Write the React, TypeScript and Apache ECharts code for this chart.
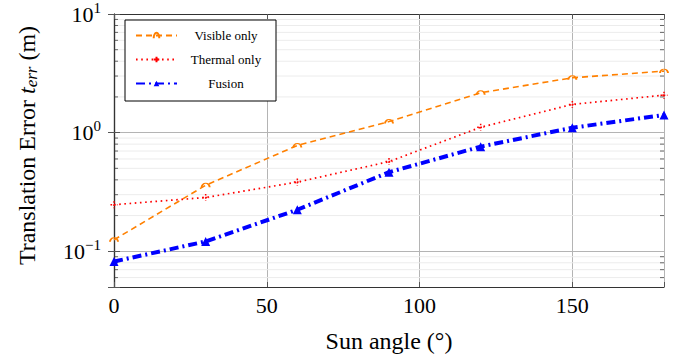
import React, { useEffect, useRef } from 'react';
import * as echarts from 'echarts';

const sunAngles = [0, 30, 60, 90, 120, 150, 180];
const visibleOnly = [0.125, 0.36, 0.78, 1.24, 2.17, 2.9, 3.3];
const thermalOnly = [0.247, 0.284, 0.383, 0.57, 1.11, 1.73, 2.07];
const fusion = [0.082, 0.121, 0.224, 0.464, 0.762, 1.1, 1.41];
const xTickLabels = [0, 50, 100, 150];
const yMinorTicks = [0.06, 0.07, 0.08, 0.09, 0.2, 0.3, 0.4, 0.5, 0.6, 0.7, 0.8, 0.9, 2, 3, 4, 5, 6, 7, 8, 9];
const seriesNames = ['Visible only', 'Thermal only', 'Fusion'];

const FONT = "'Liberation Serif', 'Times New Roman', serif";

export default function App() {
  const ref = useRef<HTMLDivElement>(null);
  useEffect(() => {
    if (!ref.current) return;
    const chart = echarts.init(ref.current, undefined, { renderer: 'svg' });
    const pair = (ys: number[]) => sunAngles.map((x, i) => [x, ys[i]]);
    const yLabel = (v: number) => {
      const l = Math.log10(v);
      const r = Math.round(l);
      if (Math.abs(l - r) > 1e-6) return '';
      const e = r < 0 ? '\u2212' + Math.abs(r) : String(r);
      return `10{sup|${e}}`;
    };
    const option: any = {
      animation: false,
      backgroundColor: '#fff',
      grid: { left: 114, right: 11, top: 14, bottom: 71, show: false },
      legend: {
        data: seriesNames,
        orient: 'vertical',
        left: 125,
        top: 20,
        padding: [8, 6, 10, 10],
        itemWidth: 41,
        itemHeight: 7,
        itemGap: 9,
        backgroundColor: '#fff',
        borderColor: '#000',
        borderWidth: 1,
        borderRadius: 0,
        formatter: (name: string) => `{a|${name}}`,
        textStyle: {
          fontFamily: FONT,
          fontSize: 13,
          color: '#000',
          rich: { a: { width: 88, height: 15, lineHeight: 15, align: 'center', fontSize: 13, fontFamily: FONT, color: '#000' } },
        },
      },
      xAxis: [
        {
          type: 'value',
          min: 0,
          max: 180,
          interval: 50,
          name: 'Sun angle (\u00b0)',
          nameLocation: 'middle',
          nameGap: 42,
          nameTextStyle: { fontFamily: FONT, fontSize: 24, color: '#000' },
          axisLine: { show: true, lineStyle: { color: '#333', width: 1.2 } },
          axisTick: { show: true, inside: true, length: 5, lineStyle: { color: '#555' } },
          axisLabel: {
            margin: 7,
            fontFamily: FONT,
            fontSize: 22,
            color: '#000',
            formatter: (v: number) => (xTickLabels.includes(v) ? String(v) : ''),
          },
          splitLine: { show: true, lineStyle: { color: '#b4b4b4', width: 1 } },
        },
        {
          type: 'value',
          position: 'top',
          min: 0,
          max: 180,
          interval: 50,
          axisLine: { show: true, lineStyle: { color: '#333', width: 1.2 } },
          axisTick: { show: true, inside: true, length: 5, lineStyle: { color: '#555' } },
          axisLabel: { show: false },
          splitLine: { show: false },
        },
      ],
      yAxis: [
        {
          type: 'log',
          logBase: 10,
          min: 0.05,
          max: 10,
          name: 'Translation Error {it|t}{sub|err} (m)',
          nameLocation: 'middle',
          nameGap: 74,
          nameTextStyle: {
            fontFamily: FONT,
            fontSize: 24,
            color: '#000',
            padding: [0, 0, 0, 10],
            rich: {
              it: { fontFamily: FONT, fontSize: 24, fontStyle: 'italic', color: '#000' },
              sub: { fontFamily: FONT, fontSize: 17, fontStyle: 'italic', color: '#000', padding: [9, 0, 0, 0] },
            },
          },
          axisLine: { show: true, lineStyle: { color: '#333', width: 1.2 } },
          axisTick: { show: true, inside: true, length: 6, lineStyle: { color: '#555' } },
          axisLabel: {
            margin: 13,
            fontFamily: FONT,
            fontSize: 22,
            color: '#000',
            formatter: yLabel,
            rich: { sup: { fontFamily: FONT, fontSize: 15, color: '#000', padding: [0, 0, 13, 0] } },
          },
          splitLine: { show: true, lineStyle: { color: '#b4b4b4', width: 1 } },
        },
        {
          type: 'log',
          logBase: 10,
          min: 0.05,
          max: 10,
          position: 'right',
          axisLine: { show: true, lineStyle: { color: '#333', width: 1.2 } },
          axisTick: { show: true, inside: true, length: 6, lineStyle: { color: '#555' } },
          axisLabel: { show: false },
          splitLine: { show: false },
        },
      ],
      series: [
        {
          type: 'custom',
          name: 'minor',
          silent: true,
          z: 0,
          xAxisIndex: 0,
          yAxisIndex: 0,
          data: yMinorTicks.map((v) => [0, v]),
          renderItem: (params: any, api: any) => {
            const cs = params.coordSys;
            const y = api.coord([0, api.value(1)])[1];
            return {
              type: 'group',
              children: [
                { type: 'line', shape: { x1: cs.x, y1: y, x2: cs.x + cs.width, y2: y }, style: { stroke: '#ececec', lineWidth: 1 } },
                { type: 'line', shape: { x1: cs.x, y1: y, x2: cs.x + 4, y2: y }, style: { stroke: '#666', lineWidth: 1 } },
                { type: 'line', shape: { x1: cs.x + cs.width - 4, y1: y, x2: cs.x + cs.width, y2: y }, style: { stroke: '#666', lineWidth: 1 } },
              ],
            };
          },
        },
        {
          name: 'Visible only',
          type: 'line',
          data: pair(visibleOnly),
          symbol: 'path://M0,10 A10,10 0 0 1 20,10',
          symbolSize: [8, 4],
          z: 3,
          lineStyle: { color: '#ff8000', width: 1.6, type: [6, 4] },
          itemStyle: { color: 'none', borderColor: '#ff8000', borderWidth: 1.4 },
        },
        {
          name: 'Thermal only',
          type: 'line',
          data: pair(thermalOnly),
          symbol: 'path://M5,0L5,10M0,5L10,5',
          symbolSize: 7,
          z: 4,
          lineStyle: { color: '#ff0000', width: 1.7, type: [1.6, 3.6] },
          itemStyle: { color: 'none', borderColor: '#ff0000', borderWidth: 1.5, borderType: [1.6, 1.6] },
        },
        {
          name: 'Fusion',
          type: 'line',
          data: pair(fusion),
          symbol: 'triangle',
          symbolSize: 9,
          z: 5,
          lineStyle: { color: '#0000ff', width: 4, type: [9, 4, 2, 4] },
          itemStyle: { color: '#0000ff' },
        },
      ],
    };
    chart.setOption(option);
    return () => chart.dispose();
  }, []);
  return <div ref={ref} style={{ width: 675, height: 358, position: 'absolute', left: 0, top: 0 }} />;
}
